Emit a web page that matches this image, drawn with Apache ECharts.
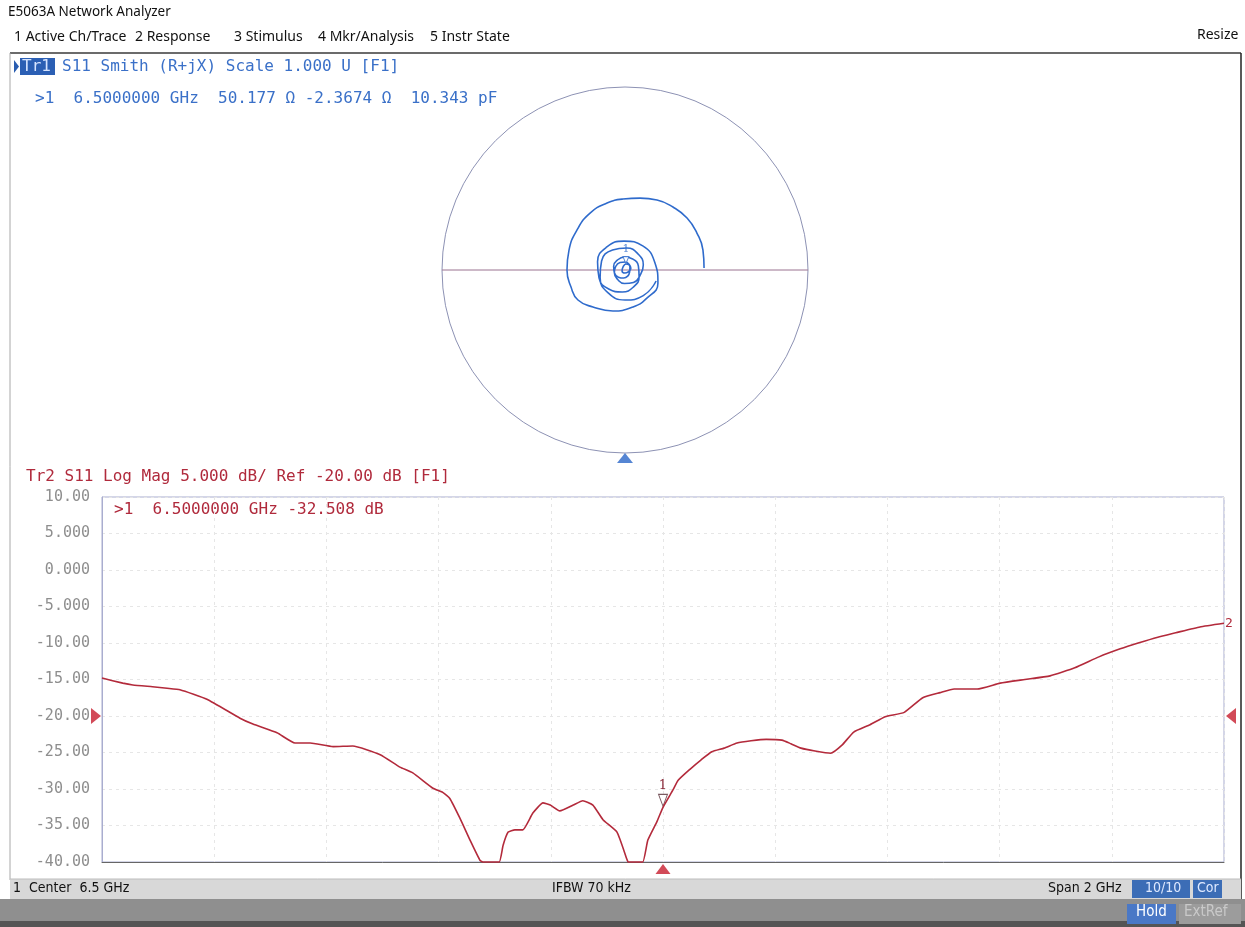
<!DOCTYPE html>
<html>
<head>
<meta charset="utf-8">
<script src="https://cdn.jsdelivr.net/npm/echarts@6/dist/echarts.min.js"></script>
<style>
html,body{margin:0;padding:0;background:#fff;}
#c{width:1245px;height:927px;}
</style>
</head>
<body>
<div id="c"></div>
<script>
// ---- Log Mag trace (Tr2) ----
const freqGHz = [5.500,5.537,5.555,5.590,5.616,5.639,5.687,5.746,5.769,5.812,5.844,5.871,5.912,5.947,5.996,6.031,6.054,6.090,6.108,6.120,6.138,6.156,6.174,6.180,6.191,6.208,6.215,6.224,6.236,6.250,6.268,6.286,6.299,6.316,6.340,6.357,6.375,6.393,6.418,6.436,6.438,6.452,6.464,6.473,6.489,6.500,6.518,6.527,6.548,6.568,6.587,6.609,6.632,6.657,6.684,6.712,6.728,6.746,6.771,6.799,6.819,6.840,6.869,6.896,6.930,6.963,6.994,7.019,7.060,7.101,7.145,7.190,7.234,7.277,7.315,7.347,7.382,7.414,7.457,7.500];
const s11dB = [-14.8,-15.5,-15.75,-16.0,-16.2,-16.4,-17.7,-20.3,-21.1,-22.3,-23.7,-23.7,-24.2,-24.1,-25.3,-27.0,-27.8,-29.9,-30.5,-31.3,-34.0,-37.0,-39.8,-40,-40,-40,-37.7,-35.9,-35.6,-35.6,-33.3,-31.9,-32.2,-33.0,-32.2,-31.6,-32.2,-34.2,-35.9,-39.7,-40,-40,-40,-37.0,-34.5,-32.508,-30.1,-28.8,-27.3,-26.0,-24.9,-24.4,-23.7,-23.4,-23.2,-23.3,-23.8,-24.4,-24.8,-25.1,-24.0,-22.2,-21.2,-20.1,-19.5,-17.5,-16.8,-16.3,-16.3,-15.5,-15.0,-14.5,-13.4,-11.9,-10.8,-10.0,-9.2,-8.6,-7.8,-7.3];
const centerGHz = 6.5;
const spanGHz = 2;
const refLevelDB = -20;
const markerGHz = 6.5;
const markerDB = -32.508;
const yTicks = [10,5,0,-5,-10,-15,-20,-25,-30,-35,-40];

// ---- Smith trace (Tr1), reflection coefficient ----
const gammaRe = [0.170,0.100,0.000,-0.092,-0.136,-0.128,-0.068,0.010,0.073,0.100,
0.082,0.046,-0.003,-0.040,-0.058,-0.051,-0.027,0.002,0.023,0.032,
0.016,0.000,-0.016,-0.011,0.005,0.027,
0.025,0.016,-0.007,-0.036,-0.058,-0.062,-0.042,-0.003,0.042,0.073,
0.077,0.047,-0.015,-0.089,-0.142,-0.150,-0.099,-0.005,0.097,0.162,
0.180,0.115,0.044,-0.066,
-0.175,-0.257,-0.295,-0.317,-0.306,-0.262,-0.191,-0.098,-0.011,0.082,0.175,0.262,0.339,0.393,0.426,0.432];
const gammaIm = [-0.060,-0.140,-0.164,-0.125,-0.040,0.049,0.109,0.120,0.086,0.027,
-0.030,-0.068,-0.074,-0.052,-0.016,0.019,0.041,0.044,0.030,0.009,
-0.011,-0.016,-0.005,0.016,0.033,0.016,
-0.011,-0.032,-0.044,-0.039,-0.015,0.021,0.054,0.071,0.060,0.022,
-0.037,-0.092,-0.120,-0.104,-0.043,0.045,0.126,0.158,0.132,0.044,
-0.071,-0.158,-0.202,-0.224,
-0.202,-0.164,-0.093,0.000,0.109,0.219,0.311,0.366,0.388,0.393,0.383,0.344,0.284,0.202,0.109,0.011];
const smithMarkerIndex = 24;

// ---- build ----
const toMHzOffset = f => Math.round((f - centerGHz) * 1000);
const halfSpan = spanGHz * 1000 / 2;
const magData = freqGHz.map((f, i) => [toMHzOffset(f), s11dB[i]]);
function toPolar(re, im){
  const r = Math.hypot(re, im);
  let a = Math.atan2(im, re) * 180 / Math.PI;
  if (a < 0) a += 360;
  return [r, a];
}
const smithData = gammaRe.map((re, i) => toPolar(re, gammaIm[i]));

const BLUE = '#3a70c8';
const RED = '#b02a3c';
const MONO = "'DejaVu Sans Mono', monospace";
const UI = "'Noto Sans', 'Liberation Sans', sans-serif";
const NARROW = "'Liberation Sans Narrow', 'DejaVu Sans Condensed', sans-serif";

const fmtY = v => Math.abs(v) >= 10 ? v.toFixed(2) : v.toFixed(3);

const chart = echarts.init(document.getElementById('c'), null, {renderer: 'canvas'});
const option = {
  backgroundColor: '#ffffff',
  animation: false,
  grid: {left: 102, top: 497, width: 1122, height: 365, show: true,
         borderColor: '#a9adcf', borderWidth: 1, backgroundColor: 'transparent'},
  xAxis: {type: 'value', min: -halfSpan, max: halfSpan, interval: spanGHz * 1000 / 10,
    axisLine: {show: true, onZero: false, lineStyle: {color: '#666', width: 1}},
    axisTick: {show: false}, axisLabel: {show: false},
    splitLine: {show: true, lineStyle: {color: '#e6e6e6', type: [3, 4], width: 1}}},
  yAxis: {type: 'value', min: yTicks[yTicks.length-1], max: yTicks[0], interval: 5,
    axisLine: {show: true, onZero: false, lineStyle: {color: '#a9adcf'}},
    axisTick: {show: false},
    axisLabel: {show: true, formatter: fmtY, color: '#8e8e8e', fontFamily: MONO, fontSize: 15, margin: 12},
    splitLine: {show: true, lineStyle: {color: '#e6e6e6', type: [3, 4], width: 1}}},
  polar: {center: [625, 270], radius: 183},
  angleAxis: {type: 'value', min: 0, max: 360, startAngle: 0, clockwise: false,
    axisLine: {show: true, lineStyle: {color: '#8d92b4', width: 1}},
    axisTick: {show: false}, axisLabel: {show: false}, splitLine: {show: false}},
  radiusAxis: {type: 'value', min: 0, max: 1,
    axisLine: {show: false}, axisTick: {show: false}, axisLabel: {show: false}, splitLine: {show: false}},
  series: [
    {
      type: 'line', xAxisIndex: 0, yAxisIndex: 0, data: magData,
      showSymbol: false, symbol: 'none', clip: false, smooth: 0.15,
      lineStyle: {color: '#b32a3b', width: 1.6},
      endLabel: {show: true, formatter: '2', color: RED, fontFamily: MONO, fontSize: 13, distance: 1},
      markPoint: {
        silent: true,
        data: [
          {coord: [toMHzOffset(markerGHz), markerDB], symbol: 'triangle', symbolRotate: 180,
           symbolSize: [9, 12], symbolOffset: [0, -7],
           itemStyle: {color: '#ffffff', borderColor: '#7a5a60', borderWidth: 1},
           label: {show: true, formatter: '1', position: 'top', distance: 2, color: '#8a2a3a',
                   fontFamily: "'DejaVu Serif', serif", fontSize: 13}},
          {coord: [toMHzOffset(markerGHz), yTicks[yTicks.length-1]], symbol: 'triangle',
           symbolSize: [15, 10], symbolOffset: [0, 7],
           itemStyle: {color: '#d24a58'}, label: {show: false}},
          {coord: [-halfSpan, refLevelDB], symbol: 'triangle', symbolRotate: -90,
           symbolSize: [16, 10], symbolOffset: [-6, 0],
           itemStyle: {color: '#d24a58'}, label: {show: false}},
          {coord: [halfSpan, refLevelDB], symbol: 'triangle', symbolRotate: 90,
           symbolSize: [16, 10], symbolOffset: [7, 0],
           itemStyle: {color: '#d24a58'}, label: {show: false}}
        ]
      },
      z: 5
    },
    {
      type: 'line', coordinateSystem: 'polar', data: [[1, 0], [1, 180]],
      showSymbol: false, symbol: 'none', silent: true,
      lineStyle: {color: '#9a7390', width: 1}, z: 2
    },
    {
      type: 'line', coordinateSystem: 'polar', data: smithData,
      showSymbol: false, symbol: 'none', smooth: 0.5, silent: true,
      lineStyle: {color: '#2f6bcc', width: 1.6}, z: 4
    },
    {
      type: 'scatter', coordinateSystem: 'polar', data: [smithData[smithMarkerIndex]],
      symbol: 'triangle', symbolRotate: 180, symbolSize: [6, 7], symbolOffset: [0, -4], silent: true,
      itemStyle: {color: '#ffffff', borderColor: '#2f6bcc', borderWidth: 1},
      label: {show: true, formatter: '1', position: 'top', distance: 1, color: '#2f6bcc',
              fontFamily: "'DejaVu Serif', serif", fontSize: 11}, z: 6
    },
    {
      type: 'scatter', coordinateSystem: 'polar', data: [[1, 270]],
      symbol: 'triangle', symbolSize: [16, 10], symbolOffset: [0, 5], silent: true,
      itemStyle: {color: '#2a66c8'}, z: 6
    }
  ],
  graphic: [
    // window frame
    {type: 'line', shape: {x1: 10, y1: 53, x2: 1241, y2: 53}, style: {stroke: '#3a3a3a', lineWidth: 1.5}},
    {type: 'line', shape: {x1: 10, y1: 53, x2: 10, y2: 880}, style: {stroke: '#a8a8a8', lineWidth: 1}},
    {type: 'line', shape: {x1: 1241, y1: 53, x2: 1241, y2: 900}, style: {stroke: '#222', lineWidth: 1.5}},
    // title + menu
    {type: 'text', left: 8, top: 5, style: {text: 'E5063A Network Analyzer', font: '13.5px ' + UI, fill: '#111'}},
    {type: 'text', left: 14, top: 30, style: {text: '1 Active Ch/Trace', font: '14px ' + UI, fill: '#111'}},
    {type: 'text', left: 135, top: 30, style: {text: '2 Response', font: '14px ' + UI, fill: '#111'}},
    {type: 'text', left: 234, top: 30, style: {text: '3 Stimulus', font: '14px ' + UI, fill: '#111'}},
    {type: 'text', left: 318, top: 30, style: {text: '4 Mkr/Analysis', font: '14px ' + UI, fill: '#111'}},
    {type: 'text', left: 430, top: 30, style: {text: '5 Instr State', font: '14px ' + UI, fill: '#111'}},
    {type: 'text', left: 1197, top: 28, style: {text: 'Resize', font: '14px ' + UI, fill: '#111'}},
    // Tr1 header
    {type: 'polygon', shape: {points: [[14, 60], [14, 73], [19, 66.5]]}, style: {fill: '#2a5db0'}},
    {type: 'rect', shape: {x: 20, y: 58, width: 35, height: 17}, style: {fill: '#2b5fb4'}},
    {type: 'text', left: 22, top: 59, style: {text: 'Tr1', font: '16px ' + MONO, fill: '#d6e4ff'}},
    {type: 'text', left: 62, top: 59, style: {text: 'S11 Smith (R+jX) Scale 1.000 U [F1]', font: '16px ' + MONO, fill: BLUE}},
    {type: 'text', left: 35, top: 91, style: {text: '>1  6.5000000 GHz  50.177 \u03a9 -2.3674 \u03a9  10.343 pF', font: '16px ' + MONO, fill: BLUE}},
    // Tr2 header
    {type: 'text', left: 26, top: 469, style: {text: 'Tr2 S11 Log Mag 5.000 dB/ Ref -20.00 dB [F1]', font: '16px ' + MONO, fill: RED}},
    {type: 'text', left: 114, top: 502, style: {text: '>1  6.5000000 GHz -32.508 dB', font: '16px ' + MONO, fill: RED}},
    // status bar
    {type: 'rect', shape: {x: 10, y: 879, width: 1231, height: 20}, style: {fill: '#d8d8d8'}},
    {type: 'line', shape: {x1: 10, y1: 879, x2: 1241, y2: 879}, style: {stroke: '#bdbdbd', lineWidth: 1}},
    {type: 'text', left: 13, top: 881, style: {text: '1  Center  6.5 GHz', font: '14px ' + NARROW, fill: '#111'}},
    {type: 'text', left: 552, top: 881, style: {text: 'IFBW 70 kHz', font: '14px ' + NARROW, fill: '#111'}},
    {type: 'text', left: 1048, top: 881, style: {text: 'Span 2 GHz', font: '14px ' + NARROW, fill: '#111'}},
    {type: 'rect', shape: {x: 1132, y: 880, width: 58, height: 18}, style: {fill: '#3c6db6'}},
    {type: 'text', left: 1145, top: 881, style: {text: '10/10', font: '14px ' + NARROW, fill: '#dfe9ff'}},
    {type: 'rect', shape: {x: 1193, y: 880, width: 29, height: 18}, style: {fill: '#3c6db6'}},
    {type: 'text', left: 1197, top: 881, style: {text: 'Cor', font: '14px ' + NARROW, fill: '#dfe9ff'}},
    // bottom bar
    {type: 'rect', shape: {x: 0, y: 899, width: 1245, height: 28}, style: {fill: '#8f8f8f'}},
    {type: 'rect', shape: {x: 0, y: 921, width: 1245, height: 6}, style: {fill: '#555555'}},
    {type: 'rect', shape: {x: 1127, y: 904, width: 49, height: 20}, style: {fill: '#4a78c6'}},
    {type: 'text', left: 1136, top: 905, style: {text: 'Hold', font: '15px ' + NARROW, fill: '#ffffff'}},
    {type: 'rect', shape: {x: 1179, y: 904, width: 62, height: 20}, style: {fill: '#9c9c9c'}},
    {type: 'text', left: 1184, top: 905, style: {text: 'ExtRef', font: '15px ' + NARROW, fill: '#c9c9c9'}}
  ]
};
chart.setOption(option);
</script>
</body>
</html>
